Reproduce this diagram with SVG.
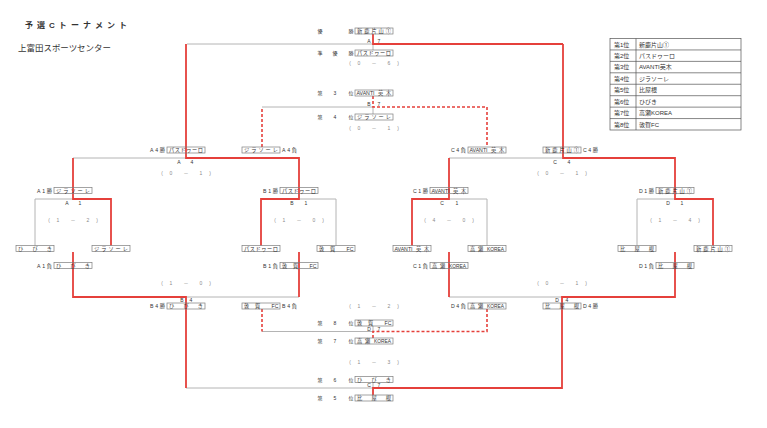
<svg xmlns="http://www.w3.org/2000/svg" width="767" height="428" viewBox="0 0 767 428">
<style>
.g{fill:none;stroke:#b4b4b4;stroke-width:1}
.r{fill:none;stroke:#e5403b;stroke-width:1.8}
.rd{fill:none;stroke:#e5403b;stroke-width:1.6;stroke-dasharray:3 2}
.b{fill:none;stroke:#7d7d7d;stroke-width:0.7}
text{font-family:"Liberation Sans","Noto Sans CJK JP",sans-serif;fill:#333}
.t{font-size:5.2px}
.s{font-size:5px;fill:#8a8a8a;text-anchor:middle}
.m{font-size:5px;text-anchor:middle}
.tb{fill:none;stroke:#555;stroke-width:0.7}
.tt{font-size:6px}
</style>
<rect width="767" height="428" fill="#fff"/>
<text x="25" y="28" font-size="8" font-weight="bold" textLength="102" lengthAdjust="spacing">予選Cトーナメント</text>
<text x="18" y="51" font-size="8.5" textLength="93" lengthAdjust="spacingAndGlyphs">上富田スポーツセンター</text>

<g id="ranking">
<rect class="tb" x="610" y="38.5" width="131" height="91.5"/>
<path class="tb" d="M610 49.94H741M610 61.38H741M610 72.81H741M610 84.25H741M610 95.69H741M610 107.13H741M610 118.56H741M636 38.5V130"/>
<text class="tt" x="614" y="46.5">第1位</text><text class="tt" x="639" y="46.5">新鹿片山①</text>
<text class="tt" x="614" y="57.9">第2位</text><text class="tt" x="639" y="57.9">パスドゥーロ</text>
<text class="tt" x="614" y="69.3">第3位</text><text class="tt" x="639" y="69.3">AVANTI英木</text>
<text class="tt" x="614" y="80.8">第4位</text><text class="tt" x="639" y="80.8">ジラソーレ</text>
<text class="tt" x="614" y="92.2">第5位</text><text class="tt" x="639" y="92.2">比屋根</text>
<text class="tt" x="614" y="103.6">第6位</text><text class="tt" x="639" y="103.6">ひびき</text>
<text class="tt" x="614" y="115.1">第7位</text><text class="tt" x="639" y="115.1">高瀬KOREA</text>
<text class="tt" x="614" y="126.5">第8位</text><text class="tt" x="639" y="126.5">敦賀FC</text>
</g>

<g id="connectors">
<path class="g" d="M187 44H373M373 44V50M262 107H373M373 107V114M73 158H186M449 158H562M35 199H73M35 199V245.5M299 199H336M336 199V245.5M449 199H487M487 199V245.5M637 199H675M637 199V245.5M186 297H299M449 297H562M262 331.5H373M373 326V331.5M186 388H373M373 382.5V388"/>
<path class="r" d="M373 34V44H563"/>
<path class="r" d="M186 44V158H299V199H261V245.5"/>
<path class="r" d="M563 44V158H675V199H713V245.5"/>
<path class="r" d="M73 158V199H111V245.5"/>
<path class="r" d="M449 158V199H412V245.5"/>
<path class="r" d="M73 252V297H186V388"/>
<path class="r" d="M299 252V297M449 252V297"/>
<path class="r" d="M675 252V297H562V388H373V395"/>
<path class="rd" d="M262 147V107"/>
<path class="rd" d="M373 96V107H487V147"/>
<path class="rd" d="M262 309V331.5"/>
<path class="rd" d="M373 338V331.5H487V309"/>
</g>

<g id="match-labels">
<text class="m" x="369" y="43">A</text><text class="m" x="379" y="43">7</text>
<text class="m" x="369" y="106">B</text><text class="m" x="379" y="106">7</text>
<text class="m" x="369" y="330.5">D</text><text class="m" x="379" y="330.5">7</text>
<text class="m" x="369" y="387">C</text><text class="m" x="379" y="387">7</text>
<text class="m" x="179" y="164">A</text><text class="m" x="192" y="164">4</text>
<text class="m" x="555" y="164">C</text><text class="m" x="569" y="164">4</text>
<text class="m" x="67" y="204.5">A</text><text class="m" x="80" y="204.5">1</text>
<text class="m" x="292" y="204.5">B</text><text class="m" x="306" y="204.5">1</text>
<text class="m" x="442" y="204.5">C</text><text class="m" x="457" y="204.5">1</text>
<text class="m" x="668" y="204.5">D</text><text class="m" x="682" y="204.5">1</text>
<text class="m" x="182" y="302">B</text><text class="m" x="191" y="302">4</text>
<text class="m" x="557" y="302">D</text><text class="m" x="567" y="302">4</text>
</g>

<g id="scores">
<text class="s" y="65"><tspan x="350">(</tspan><tspan x="359">0</tspan><tspan x="374">－</tspan><tspan x="389">6</tspan><tspan x="398">)</tspan></text>
<text class="s" y="130"><tspan x="350">(</tspan><tspan x="359">0</tspan><tspan x="374">－</tspan><tspan x="389">1</tspan><tspan x="398">)</tspan></text>
<text class="s" y="175"><tspan x="162">(</tspan><tspan x="171">0</tspan><tspan x="186">－</tspan><tspan x="201">1</tspan><tspan x="210">)</tspan></text>
<text class="s" y="175"><tspan x="538">(</tspan><tspan x="547">0</tspan><tspan x="562">－</tspan><tspan x="577">1</tspan><tspan x="586">)</tspan></text>
<text class="s" y="222"><tspan x="49">(</tspan><tspan x="58">1</tspan><tspan x="73">－</tspan><tspan x="88">2</tspan><tspan x="97">)</tspan></text>
<text class="s" y="222"><tspan x="275">(</tspan><tspan x="284">1</tspan><tspan x="299">－</tspan><tspan x="314">0</tspan><tspan x="323">)</tspan></text>
<text class="s" y="222"><tspan x="425">(</tspan><tspan x="434">4</tspan><tspan x="449">－</tspan><tspan x="464">0</tspan><tspan x="473">)</tspan></text>
<text class="s" y="222"><tspan x="651">(</tspan><tspan x="660">1</tspan><tspan x="675">－</tspan><tspan x="690">4</tspan><tspan x="699">)</tspan></text>
<text class="s" y="285"><tspan x="162">(</tspan><tspan x="171">1</tspan><tspan x="186">－</tspan><tspan x="201">0</tspan><tspan x="210">)</tspan></text>
<text class="s" y="285"><tspan x="538">(</tspan><tspan x="547">0</tspan><tspan x="562">－</tspan><tspan x="577">1</tspan><tspan x="586">)</tspan></text>
<text class="s" y="308"><tspan x="350">(</tspan><tspan x="359">1</tspan><tspan x="374">－</tspan><tspan x="389">2</tspan><tspan x="398">)</tspan></text>
<text class="s" y="364"><tspan x="350">(</tspan><tspan x="359">1</tspan><tspan x="374">－</tspan><tspan x="389">3</tspan><tspan x="398">)</tspan></text>
</g>

<g id="place-1">
<text class="m" x="320" y="33">優</text><text class="m" x="351" y="33">勝</text>
<rect class="b" x="355" y="28" width="38" height="6"/>
<text class="t" x="357" y="33" textLength="34" lengthAdjust="spacing">新鹿片山①</text>
</g>
<g id="place-2">
<text class="m" x="320" y="55">準</text><text class="m" x="335" y="55">優</text><text class="m" x="351" y="55">勝</text>
<rect class="b" x="355" y="50" width="38" height="6"/>
<text class="t" x="357" y="55" textLength="34" lengthAdjust="spacing">パスドゥーロ</text>
</g>
<g id="place-3">
<text class="m" x="320" y="95">第</text><text class="m" x="335" y="95">3</text><text class="m" x="351" y="95">位</text>
<rect class="b" x="355" y="90" width="38" height="6"/>
<text class="t" x="356.5" y="95" textLength="18" lengthAdjust="spacingAndGlyphs">AVANTI</text>
<text class="t" x="378" y="95">英</text><text class="t" x="386" y="95">木</text>
</g>
<g id="place-4">
<text class="m" x="320" y="119">第</text><text class="m" x="335" y="119">4</text><text class="m" x="351" y="119">位</text>
<rect class="b" x="355" y="114" width="38" height="6"/>
<text class="t" x="357" y="119" textLength="34" lengthAdjust="spacing">ジラソーレ</text>
</g>
<g id="place-8">
<text class="m" x="320" y="325">第</text><text class="m" x="335" y="325">8</text><text class="m" x="351" y="325">位</text>
<rect class="b" x="355" y="320" width="38" height="6"/>
<text class="t" x="357" y="325">敦</text><text class="t" x="368" y="325">賀</text><text class="t" x="384.5" y="325">FC</text>
</g>
<g id="place-7">
<text class="m" x="320" y="343">第</text><text class="m" x="335" y="343">7</text><text class="m" x="351" y="343">位</text>
<rect class="b" x="355" y="338" width="38" height="6"/>
<text class="t" x="357" y="343">高</text><text class="t" x="365" y="343">瀬</text>
<text class="t" x="374" y="343" textLength="17" lengthAdjust="spacingAndGlyphs">KOREA</text>
</g>
<g id="place-6">
<text class="m" x="320" y="381.5">第</text><text class="m" x="335" y="381.5">6</text><text class="m" x="351" y="381.5">位</text>
<rect class="b" x="355" y="376.5" width="38" height="6"/>
<text class="t" x="357" y="381.5" textLength="34" lengthAdjust="spacing">ひびき</text>
</g>
<g id="place-5">
<text class="m" x="320" y="400">第</text><text class="m" x="335" y="400">5</text><text class="m" x="351" y="400">位</text>
<rect class="b" x="355" y="395" width="38" height="6"/>
<text class="t" x="357" y="400" textLength="34" lengthAdjust="spacing">比屋根</text>
</g>

<g id="a4-win">
<text class="t" x="150" y="152" textLength="15" lengthAdjust="spacing">A4勝</text>
<rect class="b" x="167" y="147" width="38" height="6"/>
<text class="t" x="169" y="152" textLength="34" lengthAdjust="spacing">パスドゥーロ</text>
</g>
<g id="a4-lose">
<rect class="b" x="242" y="147" width="38" height="6"/>
<text class="t" x="244" y="152" textLength="34" lengthAdjust="spacing">ジラソーレ</text>
<text class="t" x="282" y="152" textLength="15" lengthAdjust="spacing">A4負</text>
</g>
<g id="c4-lose">
<text class="t" x="451" y="152" textLength="15" lengthAdjust="spacing">C4負</text>
<rect class="b" x="468" y="147" width="38" height="6"/>
<text class="t" x="469.5" y="152" textLength="18" lengthAdjust="spacingAndGlyphs">AVANTI</text>
<text class="t" x="491" y="152">英</text><text class="t" x="499" y="152">木</text>
</g>
<g id="c4-win">
<rect class="b" x="543" y="147" width="38" height="6"/>
<text class="t" x="545" y="152" textLength="34" lengthAdjust="spacing">新鹿片山①</text>
<text class="t" x="583" y="152" textLength="15" lengthAdjust="spacing">C4勝</text>
</g>

<g id="b4-win">
<text class="t" x="150" y="308" textLength="15" lengthAdjust="spacing">B4勝</text>
<rect class="b" x="167" y="303" width="38" height="6"/>
<text class="t" x="169" y="308" textLength="34" lengthAdjust="spacing">ひびき</text>
</g>
<g id="b4-lose">
<rect class="b" x="242" y="303" width="38" height="6"/>
<text class="t" x="244" y="308">敦</text><text class="t" x="255" y="308">賀</text><text class="t" x="271.5" y="308">FC</text>
<text class="t" x="282" y="308" textLength="15" lengthAdjust="spacing">B4負</text>
</g>
<g id="d4-lose">
<text class="t" x="451" y="308" textLength="15" lengthAdjust="spacing">D4負</text>
<rect class="b" x="468" y="303" width="38" height="6"/>
<text class="t" x="470" y="308">高</text><text class="t" x="478" y="308">瀬</text>
<text class="t" x="487" y="308" textLength="17" lengthAdjust="spacingAndGlyphs">KOREA</text>
</g>
<g id="d4-win">
<rect class="b" x="543" y="303" width="38" height="6"/>
<text class="t" x="545" y="308" textLength="34" lengthAdjust="spacing">比屋根</text>
<text class="t" x="583" y="308" textLength="15" lengthAdjust="spacing">D4勝</text>
</g>

<g id="a1-win">
<text class="t" x="37" y="192.5" textLength="15" lengthAdjust="spacing">A1勝</text>
<rect class="b" x="54" y="187.5" width="38" height="6"/>
<text class="t" x="56" y="192.5" textLength="34" lengthAdjust="spacing">ジラソーレ</text>
</g>
<g id="b1-win">
<text class="t" x="263" y="192.5" textLength="15" lengthAdjust="spacing">B1勝</text>
<rect class="b" x="280" y="187.5" width="38" height="6"/>
<text class="t" x="282" y="192.5" textLength="34" lengthAdjust="spacing">パスドゥーロ</text>
</g>
<g id="c1-win">
<text class="t" x="413" y="192.5" textLength="15" lengthAdjust="spacing">C1勝</text>
<rect class="b" x="430" y="187.5" width="38" height="6"/>
<text class="t" x="431.5" y="192.5" textLength="18" lengthAdjust="spacingAndGlyphs">AVANTI</text>
<text class="t" x="453" y="192.5">英</text><text class="t" x="461" y="192.5">木</text>
</g>
<g id="d1-win">
<text class="t" x="639" y="192.5" textLength="15" lengthAdjust="spacing">D1勝</text>
<rect class="b" x="656" y="187.5" width="38" height="6"/>
<text class="t" x="658" y="192.5" textLength="34" lengthAdjust="spacing">新鹿片山①</text>
</g>

<g id="team-hibiki">
<rect class="b" x="16" y="245.5" width="38" height="6"/>
<text class="t" x="18" y="250.5" textLength="34" lengthAdjust="spacing">ひびき</text>
</g>
<g id="team-girasole">
<rect class="b" x="92" y="245.5" width="38" height="6"/>
<text class="t" x="94" y="250.5" textLength="34" lengthAdjust="spacing">ジラソーレ</text>
</g>
<g id="team-pasdouro">
<rect class="b" x="242" y="245.5" width="38" height="6"/>
<text class="t" x="244" y="250.5" textLength="34" lengthAdjust="spacing">パスドゥーロ</text>
</g>
<g id="team-tsuruga">
<rect class="b" x="317" y="245.5" width="38" height="6"/>
<text class="t" x="319" y="250.5">敦</text><text class="t" x="330" y="250.5">賀</text><text class="t" x="346.5" y="250.5">FC</text>
</g>
<g id="team-avanti">
<rect class="b" x="393" y="245.5" width="38" height="6"/>
<text class="t" x="394.5" y="250.5" textLength="18" lengthAdjust="spacingAndGlyphs">AVANTI</text>
<text class="t" x="416" y="250.5">英</text><text class="t" x="424" y="250.5">木</text>
</g>
<g id="team-takase">
<rect class="b" x="468" y="245.5" width="38" height="6"/>
<text class="t" x="470" y="250.5">高</text><text class="t" x="478" y="250.5">瀬</text>
<text class="t" x="487" y="250.5" textLength="17" lengthAdjust="spacingAndGlyphs">KOREA</text>
</g>
<g id="team-hiyane">
<rect class="b" x="618" y="245.5" width="38" height="6"/>
<text class="t" x="620" y="250.5" textLength="34" lengthAdjust="spacing">比屋根</text>
</g>
<g id="team-shingu">
<rect class="b" x="694" y="245.5" width="38" height="6"/>
<text class="t" x="696" y="250.5" textLength="34" lengthAdjust="spacing">新鹿片山①</text>
</g>

<g id="a1-lose">
<text class="t" x="37" y="267.5" textLength="15" lengthAdjust="spacing">A1負</text>
<rect class="b" x="54" y="262.5" width="38" height="6"/>
<text class="t" x="56" y="267.5" textLength="34" lengthAdjust="spacing">ひびき</text>
</g>
<g id="b1-lose">
<text class="t" x="263" y="267.5" textLength="15" lengthAdjust="spacing">B1負</text>
<rect class="b" x="280" y="262.5" width="38" height="6"/>
<text class="t" x="282" y="267.5">敦</text><text class="t" x="293" y="267.5">賀</text><text class="t" x="309.5" y="267.5">FC</text>
</g>
<g id="c1-lose">
<text class="t" x="413" y="267.5" textLength="15" lengthAdjust="spacing">C1負</text>
<rect class="b" x="430" y="262.5" width="38" height="6"/>
<text class="t" x="432" y="267.5">高</text><text class="t" x="440" y="267.5">瀬</text>
<text class="t" x="449" y="267.5" textLength="17" lengthAdjust="spacingAndGlyphs">KOREA</text>
</g>
<g id="d1-lose">
<text class="t" x="639" y="267.5" textLength="15" lengthAdjust="spacing">D1負</text>
<rect class="b" x="656" y="262.5" width="38" height="6"/>
<text class="t" x="658" y="267.5" textLength="34" lengthAdjust="spacing">比屋根</text>
</g>
</svg>
